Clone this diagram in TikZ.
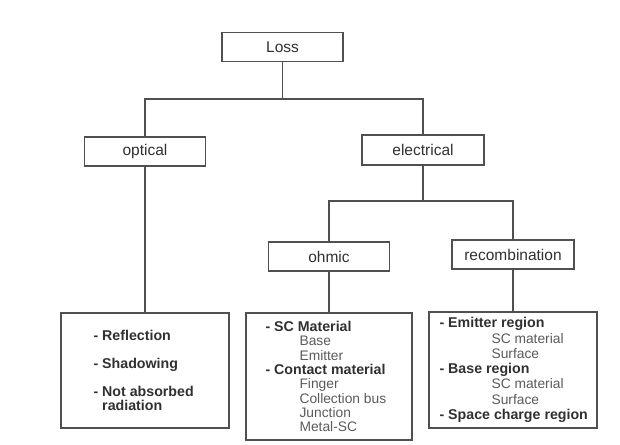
\documentclass[tikz,border=0pt]{standalone}
\usepackage{fontspec}
\setmainfont{Liberation Sans}
\definecolor{inkline}{HTML}{505050}
\definecolor{inktext}{HTML}{303030}
\definecolor{subtext}{HTML}{5A5A5A}
\newcommand{\subfont}{\fontsize{13.8}{14.3}\selectfont}
\begin{document}
\begin{tikzpicture}[x=1pt,y=-1pt,
  topbox/.style={draw=inkline, line width=1.3pt, minimum width=121pt, minimum height=29pt, inner sep=0pt,
    font=\fontsize{15.5}{17}\selectfont, text=inktext},
  listbox/.style={draw=inkline, line width=1.3pt, inner sep=0pt},
  listtext/.style={anchor=west, inner sep=0pt, align=left, text=inktext,
    font=\fontsize{14.2}{14.3}\selectfont},
  conn/.style={draw=inkline, line width=1.3pt}]
\useasboundingbox (0,0) rectangle (620,444);
\node[topbox] (loss) at (282.5,47) {Loss};
\node[topbox] (optical) at (145,151.5) {optical};
\node[topbox, minimum width=122pt, minimum height=30pt] (electrical) at (423,150) {electrical};
\node[topbox] (ohmic) at (329,256.5) {ohmic};
\node[topbox, minimum width=122pt] (recomb) at (513,254.5) {recombination};
\coordinate (j1) at (282.5,99);
\coordinate (j2) at (423,201);
\node[listbox, minimum width=168pt, minimum height=115pt] (lista) at (145,370.5) {};
\node[listbox, minimum width=166pt, minimum height=127pt] (listb) at (329,376.5) {};
\node[listbox, minimum width=168pt, minimum height=116pt] (listc) at (513,370) {};
\draw[conn] (loss.south) -- (j1) -| (optical.north);
\draw[conn] (j1) -| (electrical.north);
\draw[conn] (electrical.south) -- (j2) -| (ohmic.north);
\draw[conn] (j2) -| (recomb.north);
\draw[conn] (optical.south) -- (optical.south |- lista.north);
\draw[conn] (ohmic.south) -- (ohmic.south |- listb.north);
\draw[conn] (recomb.south) -- (recomb.south |- listc.north);
\node[listtext, font=\fontsize{14.2}{14.6}\selectfont] (texta) at ([xshift=33pt]lista.west) {\textbf{- Reflection}\\[13.4pt]
  \textbf{- Shadowing}\\[13.4pt]
  \textbf{- Not absorbed}\\
  \textbf{\phantom{- }radiation}};
\node[listtext] (textb) at ([xshift=20pt]listb.west) {\textbf{- SC Material}\\
  \hspace*{34pt}{\subfont\color{subtext}Base}\\
  \hspace*{34pt}{\subfont\color{subtext}Emitter}\\
  \textbf{- Contact material}\\
  \hspace*{34pt}{\subfont\color{subtext}Finger}\\
  \hspace*{34pt}{\subfont\color{subtext}Collection bus}\\
  \hspace*{34pt}{\subfont\color{subtext}Junction}\\
  \hspace*{34pt}{\subfont\color{subtext}Metal-SC}};
\node[listtext, font=\fontsize{14.2}{15.3}\selectfont] (textc) at ([xshift=11pt]listc.west) {\textbf{- Emitter region}\\
  \hspace*{52pt}{\subfont\color{subtext}SC material}\\
  \hspace*{52pt}{\subfont\color{subtext}Surface}\\
  \textbf{- Base region}\\
  \hspace*{52pt}{\subfont\color{subtext}SC material}\\
  \hspace*{52pt}{\subfont\color{subtext}Surface}\\
  \textbf{- Space charge region}};
\end{tikzpicture}
\end{document}
